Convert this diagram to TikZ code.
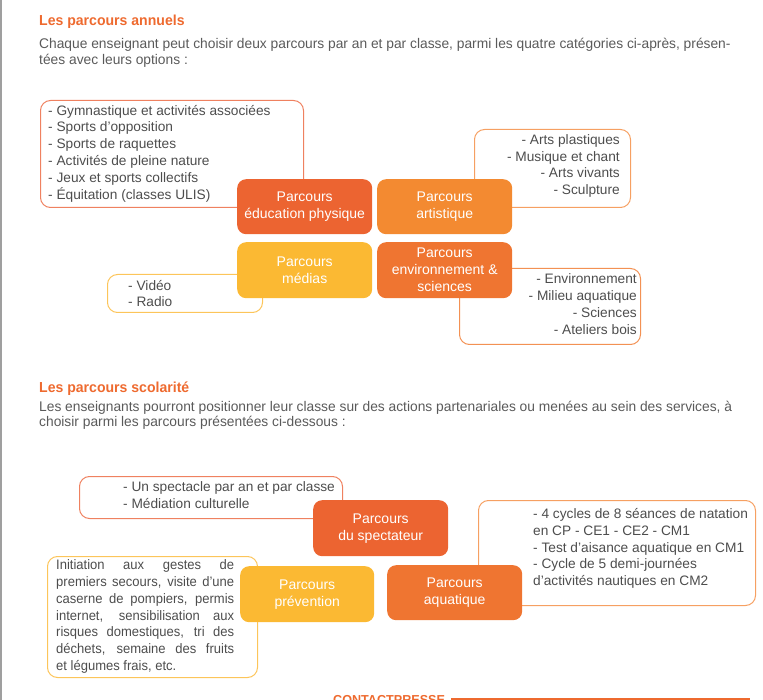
\documentclass[tikz,border=0pt]{standalone}
\usepackage{fontspec}
\setmainfont{Liberation Sans}
\newfontfamily\condfont[FakeStretch=0.97]{Liberation Sans}
\newfontfamily\bodyfont[FakeStretch=0.985]{Liberation Sans}
\newfontfamily\narrowfont[FakeStretch=0.95]{Liberation Sans}
\definecolor{titleor}{HTML}{EE6A2F}
\definecolor{cdark}{HTML}{EC6431}
\definecolor{cart}{HTML}{F38A31}
\definecolor{cenv}{HTML}{EF7531}
\definecolor{cyel}{HTML}{FBB933}
\definecolor{lgym}{HTML}{EF8160}
\definecolor{lart}{HTML}{F6A062}
\definecolor{lenv}{HTML}{F39153}
\definecolor{lyel}{HTML}{FCC55A}
\definecolor{txtgray}{HTML}{4D4D4D}
\definecolor{bodygray}{HTML}{5A5A5A}
\begin{document}
\begin{tikzpicture}[x=1pt,y=-1pt,
  pfill/.style={rounded corners=9pt, minimum width=135pt, minimum height=55pt, text=white, align=center, font=\fontsize{14}{17}\selectfont, inner sep=0pt, anchor=north west},
  pline/.style={draw, line width=1pt, rounded corners=10pt, anchor=north west, inner sep=0pt},
  ltext/.style={text=txtgray, font=\fontsize{13.7}{16.8}\selectfont, inner sep=0pt},
  heading/.style={text=titleor, font=\condfont\bfseries\fontsize{14.5}{17}\selectfont, inner sep=0pt, anchor=base west},
  bodytext/.style={text=bodygray, font=\bodyfont\fontsize{14}{16}\selectfont, inner sep=0pt, anchor=base west}]
\useasboundingbox (0,0) rectangle (763,700);
\clip (0,0) rectangle (763,700);
\draw[gray!75, line width=2pt] (1,0) -- (1,700);

% Section 1
\node[heading] (h1) at (39,26) {Les parcours annuels};
\node[bodytext] (p1a) at (39,49) {Chaque enseignant peut choisir deux parcours par an et par classe, parmi les quatre catégories ci-après, présen-};
\node[bodytext] (p1b) at (39,65) {tées avec leurs options :};

\node[pline, draw=lgym, minimum width=263pt, minimum height=107pt] (gymbox) at (40,100) {};
\node[ltext, anchor=west, align=left] (gymtxt) at (48,153.5) {- Gymnastique et activités associées\\- Sports d’opposition\\- Sports de raquettes\\- Activités de pleine nature\\- Jeux et sports collectifs\\- Équitation (classes ULIS)};

\node[pline, draw=lart, minimum width=156pt, minimum height=78pt] (artlist) at (474,129) {};
\node[ltext, anchor=east, align=right] (arttxt) at (620,166) {- Arts plastiques\\- Musique et chant\\- Arts vivants\\- Sculpture};

\node[pline, draw=lyel, minimum width=155pt, minimum height=38pt] (vidlist) at (107,274) {};
\node[ltext, anchor=west, align=left] (vidtxt) at (128,293.5) {- Vidéo\\- Radio};

\node[pline, draw=lenv, minimum width=181pt, minimum height=76pt] (envlist) at (459,268) {};
\node[ltext, anchor=east, align=right] (envtxt) at (637,304) {- Environnement\\- Milieu aquatique\\- Sciences\\- Ateliers bois};

\node[pfill, fill=cdark] (edbox) at (237,179) {Parcours\\éducation physique};
\node[pfill, fill=cart] (artbox) at (377,179) {Parcours\\artistique};
\node[pfill, fill=cyel, minimum height=56pt] (medbox) at (237,242) {Parcours\\médias};
\node[pfill, fill=cenv, minimum height=56pt] (envbox) at (377,242) {Parcours\\environnement \&\\sciences};

% Section 2
\node[heading] (h2) at (39,393) {Les parcours scolarité};
\node[bodytext] (p2a) at (39,411) {Les enseignants pourront positionner leur classe sur des actions partenariales ou menées au sein des services, à};
\node[bodytext] (p2b) at (39,427) {choisir parmi les parcours présentées ci-dessous :};

\node[pline, draw=lgym, minimum width=263pt, minimum height=42pt] (spectlist) at (79,476) {};
\node[ltext, anchor=west, align=left] (specttxt) at (123,495.5) {- Un spectacle par an et par classe\\- Médiation culturelle};

\node[pline, draw=lart, minimum width=277pt, minimum height=105pt] (aqlist) at (478,500) {};
\node[ltext, anchor=west, align=left] (aqtxt) at (533,548.5) {- 4 cycles de 8 séances de natation\\en CP - CE1 - CE2 - CM1\\- Test d’aisance aquatique en CM1\\- Cycle de 5 demi-journées\\d’activités nautiques en CM2};

\node[pline, draw=lyel, minimum width=210pt, minimum height=121pt] (prevlist) at (47,556) {};
\node[ltext, font=\narrowfont\fontsize{13.7}{16.8}\selectfont, anchor=west, align=justify, text width=178pt] (prevtxt) at (56,616.5) {Initiation aux gestes de\linebreak premiers secours, visite d’une\linebreak caserne de pompiers, permis\linebreak internet, sensibilisation aux\linebreak risques domestiques, tri des\linebreak déchets, semaine des fruits\linebreak et légumes frais, etc.};

\node[pfill, fill=cdark, minimum height=56pt] (spectbox) at (313,500) {Parcours\\du spectateur};
\node[pfill, fill=cenv] (aqbox) at (387,565) {Parcours\\aquatique};
\node[pfill, fill=cyel, minimum width=134pt, minimum height=56pt] (prevbox) at (240,566) {Parcours\\prévention};

% Bottom
\node[text=titleor, font=\condfont\bfseries\fontsize{13}{15}\selectfont, inner sep=0pt, anchor=north west] (contact) at (333,695) {CONTACTPRESSE};
\coordinate (linestart) at (451,699);
\coordinate (lineend) at (750,699);
\draw[titleor, line width=2pt] (linestart) -- (lineend);
\end{tikzpicture}
\end{document}
